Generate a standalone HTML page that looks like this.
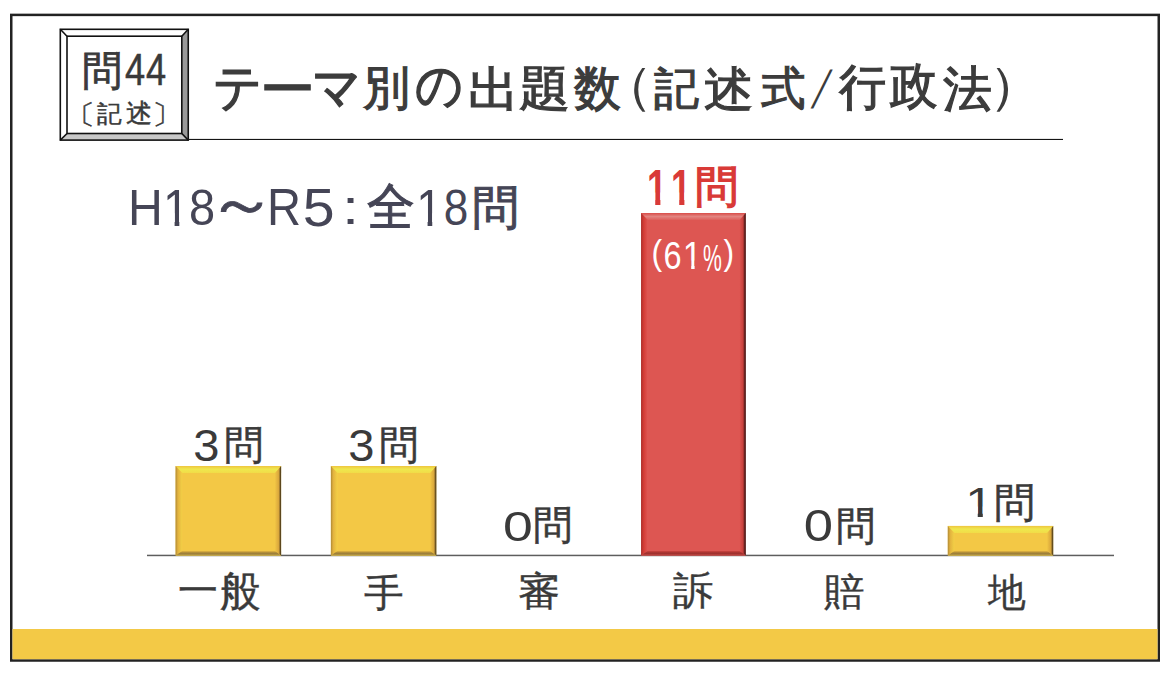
<!DOCTYPE html>
<html lang="ja">
<head>
<meta charset="utf-8">
<title>テーマ別の出題数（記述式/行政法）</title>
<style>
html,body{margin:0;padding:0;background:#fff;}
body{width:1170px;height:674px;position:relative;overflow:hidden;font-family:"Liberation Sans",sans-serif;color:#3a3a3a;}
svg.bg{position:absolute;left:0;top:0;}
.t{position:absolute;white-space:nowrap;line-height:1;}
</style>
</head>
<body>
<svg class="bg" width="1170" height="674" viewBox="0 0 1170 674">
  <defs>
    <linearGradient id="yTop" x1="0" y1="0" x2="0" y2="1">
      <stop offset="0" stop-color="#efc53f"/>
      <stop offset="0.45" stop-color="#efe84e"/>
      <stop offset="1" stop-color="#f1dc48"/>
    </linearGradient>
    <linearGradient id="yLeft" x1="0" y1="0" x2="1" y2="0">
      <stop offset="0" stop-color="#b08a36"/>
      <stop offset="0.35" stop-color="#e2b23e"/>
      <stop offset="1" stop-color="#f2cf46"/>
    </linearGradient>
    <linearGradient id="yRight" x1="0" y1="0" x2="1" y2="0">
      <stop offset="0" stop-color="#f0c444"/>
      <stop offset="0.6" stop-color="#d9a73c"/>
      <stop offset="0.8" stop-color="#8a6a2a"/>
      <stop offset="1" stop-color="#2e2410"/>
    </linearGradient>
    <linearGradient id="yBot" x1="0" y1="0" x2="0" y2="1">
      <stop offset="0" stop-color="#e6b840"/>
      <stop offset="0.45" stop-color="#a08038"/>
      <stop offset="0.7" stop-color="#9c7f3c"/>
      <stop offset="1" stop-color="#d9bb4a"/>
    </linearGradient>
    <linearGradient id="rTop" x1="0" y1="0" x2="0" y2="1">
      <stop offset="0" stop-color="#d94c48"/>
      <stop offset="0.5" stop-color="#e28480"/>
      <stop offset="1" stop-color="#de5e5a"/>
    </linearGradient>
    <linearGradient id="rLeft" x1="0" y1="0" x2="1" y2="0">
      <stop offset="0" stop-color="#a8302c"/>
      <stop offset="0.4" stop-color="#d43c36"/>
      <stop offset="1" stop-color="#de5652"/>
    </linearGradient>
    <linearGradient id="rRight" x1="0" y1="0" x2="1" y2="0">
      <stop offset="0" stop-color="#dc5450"/>
      <stop offset="0.55" stop-color="#c8403c"/>
      <stop offset="0.8" stop-color="#6a2220"/>
      <stop offset="1" stop-color="#2a1010"/>
    </linearGradient>
    <linearGradient id="rBot" x1="0" y1="0" x2="0" y2="1">
      <stop offset="0" stop-color="#cc4440"/>
      <stop offset="0.5" stop-color="#9a2e2c"/>
      <stop offset="1" stop-color="#c84844"/>
    </linearGradient>
  </defs>

  <!-- outer frame -->
  <rect x="11.25" y="14.9" width="1147.5" height="645.6" fill="none" stroke="#222" stroke-width="2.5"/>
  <!-- bottom yellow stripe -->
  <rect x="12.5" y="629" width="1145" height="30.2" fill="#f3c946"/>

  <!-- question box bevel -->
  <polygon points="188.25,29.3 188.25,140.1 181.8,133.5 181.8,36.2" fill="#999"/>
  <polygon points="60.3,140.1 188.25,140.1 181.8,133.5 67,133.5" fill="#c8c8c8"/>
  <g fill="none" stroke="#111" stroke-width="1.6">
    <rect x="60.3" y="29.3" width="127.95" height="110.8"/>
    <rect x="67" y="36.2" width="114.8" height="97.3"/>
    <line x1="60.3" y1="29.3" x2="67" y2="36.2"/>
    <line x1="188.25" y1="29.3" x2="181.8" y2="36.2"/>
    <line x1="60.3" y1="140.1" x2="67" y2="133.5"/>
    <line x1="188.25" y1="140.1" x2="181.8" y2="133.5"/>
  </g>
  <!-- title underline -->
  <rect x="188" y="138.9" width="875" height="1.1" fill="#151515"/>

  <!-- axis -->
  <rect x="147" y="554.7" width="967" height="1.5" fill="#5e5e5e"/>

  <!-- bars inserted below -->
  <g id="bars">
  <rect x="175.6" y="466.0" width="105.50" height="89.50" fill="#f3c845"/>
  <polygon points="175.6,466.0 281.1,466.0 275.10,473.00 182.10,473.00" fill="url(#yTop)"/>
  <polygon points="175.6,466.0 182.10,473.00 182.10,551.00 175.6,555.5" fill="url(#yLeft)"/>
  <polygon points="281.1,466.0 281.1,555.5 275.10,551.00 275.10,473.00" fill="url(#yRight)"/>
  <polygon points="175.6,555.5 182.10,551.00 275.10,551.00 281.1,555.5" fill="url(#yBot)"/>
  <rect x="330.9" y="466.0" width="105.40" height="89.50" fill="#f3c845"/>
  <polygon points="330.9,466.0 436.3,466.0 430.30,473.00 337.40,473.00" fill="url(#yTop)"/>
  <polygon points="330.9,466.0 337.40,473.00 337.40,551.00 330.9,555.5" fill="url(#yLeft)"/>
  <polygon points="436.3,466.0 436.3,555.5 430.30,551.00 430.30,473.00" fill="url(#yRight)"/>
  <polygon points="330.9,555.5 337.40,551.00 430.30,551.00 436.3,555.5" fill="url(#yBot)"/>
  <rect x="641.1" y="213.0" width="104.60" height="342.50" fill="#dd5652"/>
  <polygon points="641.1,213.0 745.7,213.0 739.70,220.00 647.60,220.00" fill="url(#rTop)"/>
  <polygon points="641.1,213.0 647.60,220.00 647.60,551.00 641.1,555.5" fill="url(#rLeft)"/>
  <polygon points="745.7,213.0 745.7,555.5 739.70,551.00 739.70,220.00" fill="url(#rRight)"/>
  <polygon points="641.1,555.5 647.60,551.00 739.70,551.00 745.7,555.5" fill="url(#rBot)"/>
  <rect x="947.8" y="525.9" width="105.40" height="29.60" fill="#f3c845"/>
  <polygon points="947.8,525.9 1053.2,525.9 1047.20,532.90 954.30,532.90" fill="url(#yTop)"/>
  <polygon points="947.8,525.9 954.30,532.90 954.30,551.00 947.8,555.5" fill="url(#yLeft)"/>
  <polygon points="1053.2,525.9 1053.2,555.5 1047.20,551.00 1047.20,532.90" fill="url(#yRight)"/>
  <polygon points="947.8,555.5 954.30,551.00 1047.20,551.00 1053.2,555.5" fill="url(#yBot)"/>
  </g>
</svg>

<!--TEXT-->
<div class="t" style="left:210.96px;top:60.75px;font-size:52.36px;color:#3c3c3c;transform:scale(0.929,1.000);transform-origin:25.92px 29.84px;-webkit-text-stroke:1.36px #3c3c3c">テ</div>
<div class="t" style="left:262.98px;top:64.70px;font-size:49.00px;color:#3c3c3c;transform:scale(1.123,1.000);transform-origin:24.50px 23.03px;-webkit-text-stroke:1.27px #3c3c3c">ー</div>
<div class="t" style="left:310.11px;top:61.48px;font-size:53.21px;color:#3c3c3c;transform:scale(0.917,1.000);transform-origin:26.34px 29.26px;-webkit-text-stroke:1.38px #3c3c3c">マ</div>
<div class="t" style="left:363.19px;top:64.95px;font-size:46.61px;color:#3c3c3c;-webkit-text-stroke:1.21px #3c3c3c">別</div>
<div class="t" style="left:413.33px;top:59.42px;font-size:52.35px;color:#3c3c3c;transform:scale(0.907,1.000);transform-origin:26.18px 29.58px;-webkit-text-stroke:1.36px #3c3c3c">の</div>
<div class="t" style="left:468.64px;top:65.44px;font-size:48.43px;color:#3c3c3c;transform:scale(1.062,1.000);transform-origin:21.79px 23.49px;-webkit-text-stroke:1.26px #3c3c3c">出</div>
<div class="t" style="left:520.15px;top:65.33px;font-size:47.92px;color:#3c3c3c;transform:scale(1.065,1.000);transform-origin:23.00px 24.44px;-webkit-text-stroke:1.25px #3c3c3c">題</div>
<div class="t" style="left:574.05px;top:64.51px;font-size:48.03px;color:#3c3c3c;transform:scale(0.979,1.000);transform-origin:23.54px 24.98px;-webkit-text-stroke:1.25px #3c3c3c">数</div>
<div class="t" style="left:602.19px;top:59.84px;font-size:51.01px;color:#3c3c3c;transform:scale(1.092,1.000);transform-origin:38.26px 30.10px">（</div>
<div class="t" style="left:654.19px;top:67.11px;font-size:44.96px;color:#3c3c3c;-webkit-text-stroke:1.17px #3c3c3c">記</div>
<div class="t" style="left:705.24px;top:64.58px;font-size:48.46px;color:#3c3c3c;transform:scale(1.027,1.000);transform-origin:23.51px 23.51px;-webkit-text-stroke:1.26px #3c3c3c">述</div>
<div class="t" style="left:759.68px;top:65.57px;font-size:45.84px;color:#3c3c3c;transform:scale(0.967,1.000);transform-origin:22.23px 22.92px;-webkit-text-stroke:1.19px #3c3c3c">式</div>
<div class="t" style="left:816.69px;top:72.34px;font-size:34.00px;color:#3c3c3c;transform:skewX(-18deg) scale(1.000,1.560);transform-origin:4.76px 16.66px">/</div>
<div class="t" style="left:837.83px;top:63.10px;font-size:49.01px;color:#3c3c3c;transform:scale(0.960,1.000);transform-origin:24.01px 25.48px;-webkit-text-stroke:1.27px #3c3c3c">行</div>
<div class="t" style="left:889.38px;top:61.75px;font-size:49.89px;color:#3c3c3c;transform:scale(0.948,1.000);transform-origin:23.95px 26.44px;-webkit-text-stroke:1.30px #3c3c3c">政</div>
<div class="t" style="left:942.66px;top:64.58px;font-size:48.50px;color:#3c3c3c;-webkit-text-stroke:1.26px #3c3c3c">法</div>
<div class="t" style="left:989.72px;top:59.84px;font-size:51.01px;color:#3c3c3c;transform:scale(1.120,1.000);transform-origin:12.75px 30.10px">）</div>
<div class="t" style="left:82.25px;top:50.99px;font-size:41.09px;color:#3a3a3a;transform:scale(0.979,1.000);transform-origin:20.34px 21.16px;-webkit-text-stroke:0.82px #3a3a3a">問</div>
<div class="t" style="left:123.04px;top:49.07px;font-size:43.58px;color:#3a3a3a;transform:scale(0.831,1.000);transform-origin:11.99px 21.79px;-webkit-text-stroke:0.52px #3a3a3a">4</div>
<div class="t" style="left:144.21px;top:49.07px;font-size:43.58px;color:#3a3a3a;transform:scale(0.831,1.000);transform-origin:11.99px 21.79px;-webkit-text-stroke:0.52px #3a3a3a">4</div>
<div class="t" style="left:67.07px;top:100.82px;font-size:27.49px;color:#3a3a3a;transform:scale(1.120,1.000);transform-origin:20.61px 13.47px;-webkit-text-stroke:0.49px #3a3a3a">〔</div>
<div class="t" style="left:97.35px;top:101.86px;font-size:24.19px;color:#3a3a3a;transform:scale(1.027,1.000);transform-origin:12.09px 12.09px;-webkit-text-stroke:0.44px #3a3a3a">記</div>
<div class="t" style="left:125.66px;top:101.34px;font-size:25.55px;color:#3a3a3a;-webkit-text-stroke:0.46px #3a3a3a">述</div>
<div class="t" style="left:152.80px;top:100.82px;font-size:27.49px;color:#3a3a3a;transform:scale(1.120,1.000);transform-origin:6.87px 13.47px;-webkit-text-stroke:0.49px #3a3a3a">〕</div>
<div class="t" style="left:126.68px;top:182.78px;font-size:50.72px;color:#454556;transform:scale(0.951,1.000);transform-origin:18.26px 25.62px">H</div>
<div class="t" style="left:162.47px;top:182.04px;font-size:51.99px;color:#454556;transform:scale(0.906,1.000);transform-origin:11.31px 25.99px;clip-path:polygon(0 0,100% 0,100% .6em,.345em .6em,.345em 100%,.245em 100%,.245em .6em,0 .6em)">1</div>
<div class="t" style="left:187.86px;top:183.31px;font-size:50.79px;color:#454556;transform:scale(0.925,1.000);transform-origin:13.97px 25.65px">8</div>
<div class="t" style="left:215.96px;top:179.17px;font-size:51.00px;color:#454556;transform:scale(1.360,1.250);transform-origin:25.25px 29.07px;-webkit-text-stroke:0.61px #454556">～</div>
<div class="t" style="left:265.43px;top:181.40px;font-size:52.38px;color:#454556;transform:scale(0.899,1.000);transform-origin:19.64px 26.19px">R</div>
<div class="t" style="left:304.43px;top:181.68px;font-size:52.95px;color:#454556;transform:scale(1.082,1.000);transform-origin:14.83px 27.00px">5</div>
<div class="t" style="left:343.61px;top:184.33px;font-size:47.67px;color:#454556;transform:scale(1.292,1.000);transform-origin:6.67px 27.89px">:</div>
<div class="t" style="left:365.97px;top:183.04px;font-size:49.95px;color:#454556;transform:scale(0.953,1.000);transform-origin:24.48px 23.98px;-webkit-text-stroke:1.00px #454556">全</div>
<div class="t" style="left:415.44px;top:182.04px;font-size:51.99px;color:#454556;transform:scale(0.896,1.000);transform-origin:11.31px 25.99px;clip-path:polygon(0 0,100% 0,100% .6em,.345em .6em,.345em 100%,.245em 100%,.245em .6em,0 .6em)">1</div>
<div class="t" style="left:442.12px;top:183.31px;font-size:50.79px;color:#454556;transform:scale(0.868,1.000);transform-origin:13.97px 25.65px">8</div>
<div class="t" style="left:471.86px;top:183.90px;font-size:47.41px;color:#454556;-webkit-text-stroke:0.95px #454556">問</div>
<div class="t" style="left:193.82px;top:423.51px;font-size:44.07px;color:#3a3a3a;transform:scale(1.069,1.000);transform-origin:12.12px 22.26px">3</div>
<div class="t" style="left:223.63px;top:424.59px;font-size:40.09px;color:#3a3a3a;transform:scale(0.987,1.000);transform-origin:19.84px 20.64px;-webkit-text-stroke:0.56px #3a3a3a">問</div>
<div class="t" style="left:348.82px;top:423.51px;font-size:44.07px;color:#3a3a3a;transform:scale(1.069,1.000);transform-origin:12.12px 22.26px">3</div>
<div class="t" style="left:378.63px;top:424.59px;font-size:40.09px;color:#3a3a3a;transform:scale(0.987,1.000);transform-origin:19.84px 20.64px;-webkit-text-stroke:0.56px #3a3a3a">問</div>
<div class="t" style="left:505.51px;top:504.84px;font-size:43.12px;color:#3a3a3a;transform:scale(1.242,1.000);transform-origin:12.07px 21.78px">0</div>
<div class="t" style="left:533.35px;top:505.39px;font-size:40.36px;color:#3a3a3a;transform:scale(0.985,1.000);transform-origin:19.98px 20.78px;-webkit-text-stroke:0.57px #3a3a3a">問</div>
<div class="t" style="left:805.92px;top:503.78px;font-size:44.50px;color:#3a3a3a;transform:scale(1.182,1.000);transform-origin:12.46px 22.47px">0</div>
<div class="t" style="left:836.06px;top:505.56px;font-size:40.36px;color:#3a3a3a;transform:scale(0.983,1.000);transform-origin:19.98px 20.78px;-webkit-text-stroke:0.57px #3a3a3a">問</div>
<div class="t" style="left:966.73px;top:480.81px;font-size:42.99px;color:#3a3a3a;transform:scale(1.177,1.000);transform-origin:9.35px 21.50px;clip-path:polygon(0 0,100% 0,100% .6em,.345em .6em,.345em 100%,.245em 100%,.245em .6em,0 .6em)">1</div>
<div class="t" style="left:994.28px;top:482.54px;font-size:40.79px;color:#3a3a3a;-webkit-text-stroke:0.57px #3a3a3a">問</div>
<div class="t" style="left:643.55px;top:162.80px;font-size:49.40px;color:#d93a37;font-weight:bold;transform:scale(0.722,1.000);transform-origin:10.87px 24.70px;clip-path:polygon(0 0,100% 0,100% .6em,.375em .6em,.375em 100%,.23em 100%,.23em .6em,0 .6em)">1</div>
<div class="t" style="left:667.60px;top:162.80px;font-size:49.40px;color:#d93a37;font-weight:bold;transform:scale(0.722,1.000);transform-origin:10.87px 24.70px;clip-path:polygon(0 0,100% 0,100% .6em,.375em .6em,.375em 100%,.23em 100%,.23em .6em,0 .6em)">1</div>
<div class="t" style="left:695.28px;top:165.31px;font-size:44.33px;color:#d93a37;font-weight:bold;transform:scale(0.984,1.000);transform-origin:22.17px 22.83px">問</div>
<div class="t" style="left:652.10px;top:240.46px;font-size:29.00px;color:#ffffff;transform:scale(1.100,1.190);transform-origin:5.51px 17.11px">(</div>
<div class="t" style="left:662.23px;top:238.05px;font-size:37.93px;color:#ffffff;transform:scale(0.856,1.000);transform-origin:10.62px 19.15px">6</div>
<div class="t" style="left:682.31px;top:237.82px;font-size:37.87px;color:#ffffff;transform:scale(0.906,1.000);transform-origin:8.24px 18.93px;clip-path:polygon(0 0,100% 0,100% .6em,.345em .6em,.345em 100%,.245em 100%,.245em .6em,0 .6em)">1</div>
<div class="t" style="left:695.88px;top:239.52px;font-size:37.33px;color:#ffffff;transform:scale(0.567,1.000);transform-origin:16.42px 19.04px">%</div>
<div class="t" style="left:723.50px;top:240.46px;font-size:29.00px;color:#ffffff;transform:scale(1.100,1.190);transform-origin:4.06px 17.11px">)</div>
<div class="t" style="left:176.75px;top:570.46px;font-size:42.00px;color:#3a3a3a;transform:scale(0.953,1.000);transform-origin:20.79px 19.53px;-webkit-text-stroke:0.38px #3a3a3a">一</div>
<div class="t" style="left:219.17px;top:569.53px;font-size:42.61px;color:#3a3a3a;transform:scale(0.945,1.000);transform-origin:20.88px 21.73px;-webkit-text-stroke:0.38px #3a3a3a">般</div>
<div class="t" style="left:364.90px;top:573.98px;font-size:38.13px;color:#3a3a3a;transform:scale(1.043,1.000);transform-origin:18.68px 19.07px;-webkit-text-stroke:0.34px #3a3a3a">手</div>
<div class="t" style="left:518.70px;top:572.30px;font-size:39.94px;color:#3a3a3a;transform:scale(1.056,1.000);transform-origin:19.57px 19.37px;-webkit-text-stroke:0.36px #3a3a3a">審</div>
<div class="t" style="left:674.08px;top:572.08px;font-size:38.83px;color:#3a3a3a;transform:scale(1.040,1.000);transform-origin:18.83px 19.42px;-webkit-text-stroke:0.35px #3a3a3a">訴</div>
<div class="t" style="left:825.46px;top:573.34px;font-size:38.34px;color:#3a3a3a;transform:scale(1.067,1.000);transform-origin:18.79px 19.17px;-webkit-text-stroke:0.35px #3a3a3a">賠</div>
<div class="t" style="left:987.13px;top:572.56px;font-size:39.28px;color:#3a3a3a;transform:scale(0.967,1.000);transform-origin:19.45px 19.45px;-webkit-text-stroke:0.35px #3a3a3a">地</div>
<!--/TEXT-->
</body>
</html>
